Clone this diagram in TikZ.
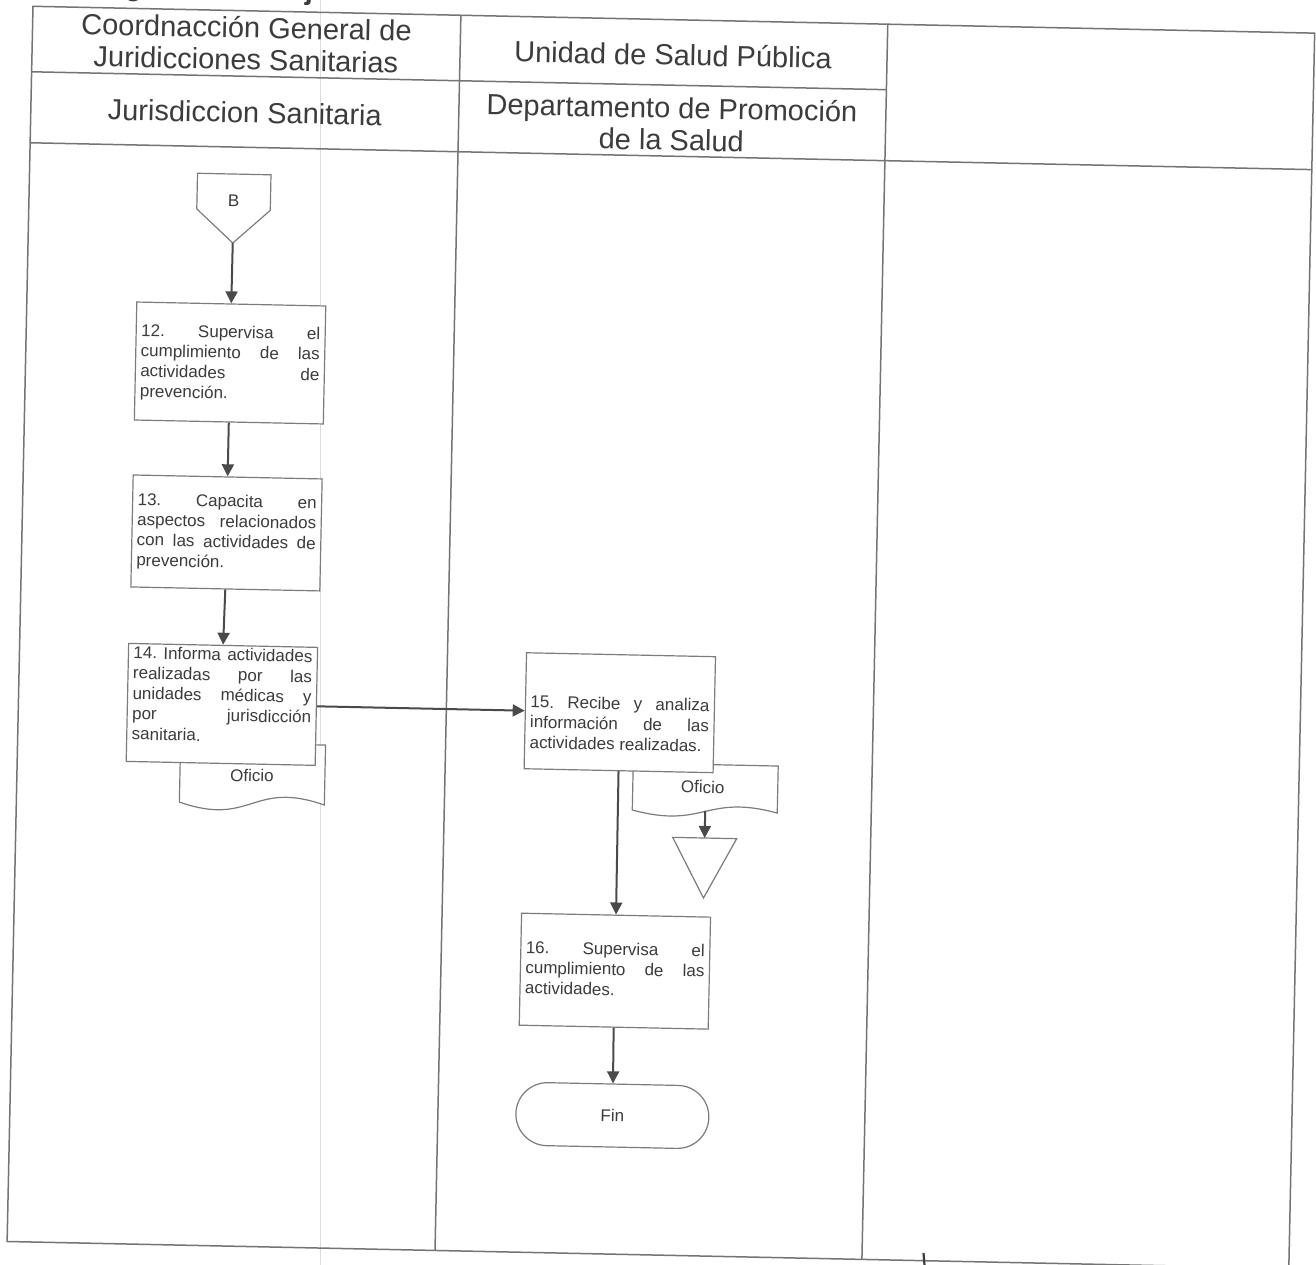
\documentclass[tikz,border=0pt]{standalone}
\usepackage{fontspec}
\setmainfont{Liberation Sans}
\usetikzlibrary{arrows.meta,calc,shapes.misc}
\setlength{\parindent}{0pt}
\hyphenpenalty=10000
\exhyphenpenalty=10000
\frenchspacing

\definecolor{rule}{HTML}{747474}
\definecolor{ink}{HTML}{3C3C3C}
\definecolor{edge}{HTML}{7C7C7C}
\definecolor{flowc}{HTML}{4A4A4A}
\definecolor{faint}{HTML}{DCDCDC}

\begin{document}
\begin{tikzpicture}[x=1pt,y=-1pt,
  tableline/.style={draw=rule,line width=1.5pt},
  lane/.style={text=ink,font=\fontsize{29}{32}\selectfont,align=center,inner sep=0pt},
  procbox/.style={draw=edge,fill=white,line width=1.2pt,inner sep=0pt,minimum width=189pt},
  proctext/.style={text=ink,inner sep=0pt,text width=179pt,align=justify,
    font=\fontsize{17}{20.3}\selectfont},
  shapeline/.style={draw=edge,fill=white,line width=1.2pt},
  small/.style={text=ink,inner sep=0pt,font=\fontsize{17}{20}\selectfont},
  terminal/.style={rounded rectangle,draw=edge,fill=white,line width=1.2pt,
    minimum width=193pt,minimum height=63pt,inner sep=0pt,text=ink,font=\fontsize{17}{20}\selectfont},
  flow/.style={draw=flowc,line width=2pt,-{Triangle[length=12pt,width=12pt]}}
]
\useasboundingbox (0,0) rectangle (1316,1265);
\fill[white] (0,0) rectangle (1316,1265);

% pale line running through the first lane
\draw[draw=faint,line width=1pt] (320,0) -- (320,1265);

\begin{scope}[rotate around={-1.2:(658,632)},transform shape]

% title
\node[anchor=base west,inner sep=0pt,text=ink,font=\bfseries\fontsize{29}{32}\selectfont] (title) at (66,7) {Diagrama de Flujo};

% swimlane table
\draw[tableline] (20,19.5) rectangle (1302,1255);
\draw[tableline] (448,19.5) -- (448,1255);
\draw[tableline] (875,19.5) -- (875,1255);
\draw[tableline] (20,85) -- (875,85);
\draw[tableline] (20,156) -- (1302,156);

\node[lane] (hA1) at (234,52) {Coordnacción General de\\Juridicciones Sanitarias};
\node[lane] (hA2) at (234,121) {Jurisdiccion Sanitaria};
\node[lane] (hB1) at (661,54.5) {Unidad de Salud Pública};
\node[lane] (hB2) at (661,123.5) {Departamento de Promoción\\de la Salud};

% off-page connector
\draw[shapeline] (188,183) -- (261.5,183) -- (261.5,218.6) -- (224.7,252) -- (188,218.6) -- cycle;
\node[small] (bref) at (224.7,210) {B};
\coordinate (btip) at (224.7,252);

% documents (drawn first, boxes overlap their tops)
\draw[shapeline] (183,752) -- (328,752) -- (328,812)
  .. controls (255.5,788) and (255.5,836) .. (183,812) -- cycle;
\node[small] (of1) at (255,784) {Oficio};

\draw[shapeline] (636,763.5) -- (781,763.5) -- (781,810.5)
  .. controls (708.5,792.5) and (708.5,828.5) .. (636,810.5) -- cycle;
\node[small] (of2) at (706,786) {Oficio};

% archive triangle
\draw[shapeline] (677,837) -- (741,837) -- (709,897) -- cycle;
\coordinate (d2out) at (709,810);
\coordinate (arch) at (709,837);

% process boxes
\node[procbox,minimum height=118pt] (p12) at (224.5,372) {};
\node[proctext] (t12) at (224.5,373) {12. Supervisa el\linebreak cumplimiento de las\linebreak actividades de\linebreak prevención.};

\node[procbox,minimum height=112pt] (p13) at (224.5,542) {};
\node[proctext] (t13) at (224.5,542) {13. Capacita en\linebreak aspectos relacionados\linebreak con las actividades de\linebreak prevención.};

\node[procbox,minimum height=118pt] (p14) at (223.5,713.5) {};
\node[proctext] (t14) at (223.5,704) {14. Informa actividades\linebreak realizadas por las\linebreak unidades médicas y\linebreak por jurisdicción\linebreak sanitaria.};

\node[procbox,minimum height=116pt] (p15) at (621.5,713.5) {};
\node[proctext] (t15) at (621.5,724.5) {15. Recibe y analiza\linebreak información de las\linebreak actividades realizadas.};

\node[procbox,minimum height=112pt] (p16) at (622,972) {};
\node[proctext] (t16) at (622,970) {16. Supervisa el\linebreak cumplimiento de las\linebreak actividades.};

\node[terminal] (fin) at (622.5,1116.4) {Fin};

% connectors
\draw[flow] (btip) -- (p12.north);
\draw[flow] (p12.south) -- (p13.north);
\draw[flow] (p13.south) -- (p14.north);
\draw[flow] (p14.east) -- (p15.west);
\draw[flow] (p15.south) -- (p16.north);
\draw[flow] (d2out) -- (arch);
\draw[flow] (p16.south) -- (fin.north);

\end{scope}

% small pen mark on the bottom rule
\draw[draw=ink,line width=2.2pt] (923.5,1253) -- (924.5,1265);

\end{tikzpicture}
\end{document}
